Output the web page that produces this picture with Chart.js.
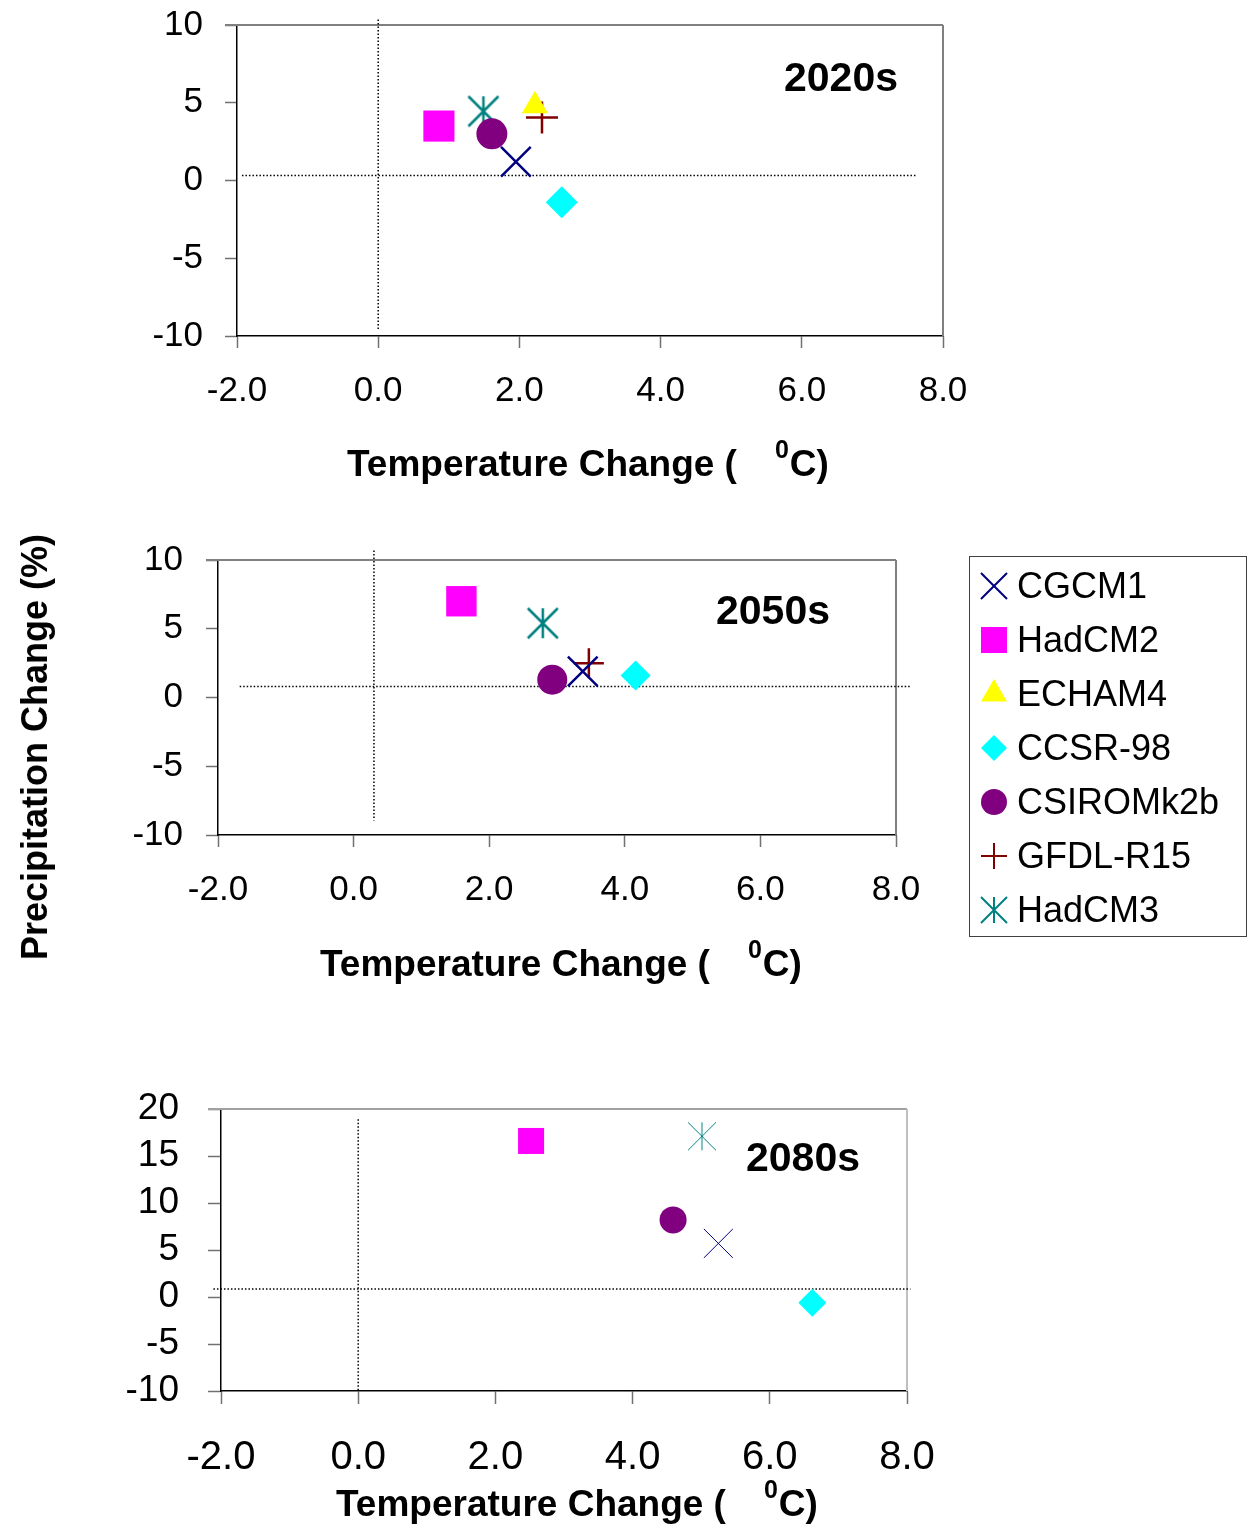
<!DOCTYPE html>
<html lang="en">
<head>
<meta charset="UTF-8">
<title>Temperature and precipitation change scenarios</title>
<script src="https://cdn.jsdelivr.net/npm/chart.js"></script>
<style>
  body { margin: 0; background: #fff; font-family: "Liberation Sans", Arial, sans-serif; }
  #page { position: relative; width: 1251px; height: 1526px; overflow: hidden; }
  .panel { position: absolute; left: 0; }
  #ytitle {
    position: absolute; left: 35px; top: 747px;
    transform: translate(-50%, -50%) rotate(-90deg);
    font-weight: bold; font-size: 36px; white-space: nowrap; color: #000;
  }
  #legend {
    position: absolute; left: 969px; top: 556px; width: 276px; height: 379px;
    border: 1px solid #404040; background: #fff;
  }
  .item { position: absolute; left: 0; height: 54px; display: flex; align-items: center; font-size: 36px; }
  .item canvas { margin-left: 9px; margin-right: 8px; }
</style>
</head>
<body>
<div id="page">
  <div class="panel" style="top:-35px"><canvas id="c2020" width="1000" height="535"></canvas></div>
  <div class="panel" style="top:500px"><canvas id="c2050" width="960" height="500"></canvas></div>
  <div class="panel" style="top:1050px"><canvas id="c2080" width="980" height="476"></canvas></div>
  <div id="ytitle">Precipitation Change (%)</div>
  <div id="legend"></div>
</div>

<script>
// models and marker colours
const models = ['CGCM1', 'HadCM2', 'ECHAM4', 'CCSR-98', 'CSIROMk2b', 'GFDL-R15', 'HadCM3'];
const colors = ['#000080', '#ff00ff', '#ffff00', '#00ffff', '#800080', '#800000', '#008080'];
const styles = ['crossRot', 'rect', 'triangle', 'rectRot', 'circle', 'cross', 'asterisk'];

// temperature change (C) and precipitation change (%) per model
const temp2020s   = [1.95, 0.86, 2.22, 2.60, 1.61, 2.32, 1.49];
const precip2020s = [1.2, 3.5, 4.8, -1.4, 3.0, 4.05, 4.45];
const temp2050s   = [3.38, 1.59, null, 4.16, 2.93, 3.47, 2.79];
const precip2050s = [1.9, 7.0, null, 1.6, 1.3, 2.5, 5.4];
const temp2080s   = [5.25, 2.52, null, 6.62, 4.59, null, 5.01];
const precip2080s = [5.7, 16.6, null, -0.6, 8.2, null, 17.1];

// axis ranges
const xRange = [-2, 8];
const yRange2020s = [-10, 10];
const yRange2050s = [-10, 10];
const yRange2080s = [-10, 20];

// dotted reference lines: horizontal [xFrom, xTo, y], vertical [x, yFrom, yTo]
const hRef2020s = [-1.93, 7.61, 0.32];
const vRef2020s = [0, 10.35, -9.6];
const hRef2050s = [-1.68, 8.23, 0.8];
const vRef2050s = [0.3, 10.7, -8.95];
const hRef2080s = [-2.11, 8.05, 0.86];
const vRef2080s = [0, 18.9, -10];

function makeAsterisk(size, lw, color) {
  const c = document.createElement('canvas');
  c.width = size + 4; c.height = size + 4;
  const g = c.getContext('2d');
  const m = c.width / 2, h = size / 2;
  g.strokeStyle = color; g.lineWidth = lw;
  g.beginPath();
  g.moveTo(m, m - h); g.lineTo(m, m + h);
  g.moveTo(m - h, m - h); g.lineTo(m + h, m + h);
  g.moveTo(m + h, m - h); g.lineTo(m - h, m + h);
  g.stroke();
  return c;
}

function markerSets(temps, precs, sz, lw) {
  return models.map((m, i) => {
    const st = styles[i];
    const lineStyle = (st === 'cross' || st === 'crossRot');
    return {
      label: m,
      data: temps[i] == null ? [] : [{ x: temps[i], y: precs[i] }],
      pointStyle: st === 'asterisk' ? makeAsterisk(sz.asterisk, lw, colors[i]) : st,
      pointRadius: sz[st],
      pointHoverRadius: sz[st],
      backgroundColor: colors[i],
      borderColor: colors[i],
      borderWidth: lineStyle ? lw : 0,
      order: 1
    };
  });
}

function refSets(h, v) {
  const common = {
    showLine: true, borderColor: '#000', borderWidth: 1.5, borderDash: [1.5, 2],
    pointRadius: 0, clip: false, order: 10
  };
  return [
    Object.assign({ data: [{ x: h[0], y: h[2] }, { x: h[1], y: h[2] }] }, common),
    Object.assign({ data: [{ x: v[0], y: v[1] }, { x: v[0], y: v[2] }] }, common)
  ];
}

const panelText = {
  id: 'panelText',
  beforeDatasetsDraw(chart, args, o) {
    const { ctx, chartArea: a } = chart;
    ctx.save();
    ctx.strokeStyle = o.topColor; ctx.lineWidth = 2;
    ctx.beginPath(); ctx.moveTo(a.left - o.tick, a.top); ctx.lineTo(a.right, a.top); ctx.stroke();
    ctx.strokeStyle = o.rightColor;
    ctx.beginPath(); ctx.moveTo(a.right, a.top); ctx.lineTo(a.right, a.bottom); ctx.stroke();
    ctx.restore();
  },
  afterDraw(chart, args, o) {
    const { ctx, chartArea: a } = chart;
    ctx.save();
    ctx.fillStyle = '#000';
    // period label
    ctx.font = 'bold 41px "Liberation Sans", Arial, sans-serif';
    ctx.textAlign = 'center'; ctx.textBaseline = 'middle';
    ctx.fillText(o.period, a.right - o.periodDx, a.top + o.periodDy);
    // x axis title with superscript zero
    ctx.textAlign = 'left'; ctx.textBaseline = 'alphabetic';
    let x = a.left + o.titleDx;
    const y = a.bottom + o.titleDy;
    ctx.font = 'bold 37px "Liberation Sans", Arial, sans-serif';
    const part1 = 'Temperature Change (';
    ctx.fillText(part1, x, y);
    x += ctx.measureText(part1).width + 38;
    ctx.font = 'bold 25px "Liberation Sans", Arial, sans-serif';
    ctx.fillText('0', x, y - 18);
    x += ctx.measureText('0').width + 1;
    ctx.font = 'bold 37px "Liberation Sans", Arial, sans-serif';
    ctx.fillText('C)', x, y);
    ctx.restore();
  }
};

function makeChart(id, temps, precs, yRange, hRef, vRef, p) {
  const font = (s) => ({ family: '"Liberation Sans", Arial, sans-serif', size: s });
  return new Chart(document.getElementById(id), {
    type: 'scatter',
    data: { datasets: refSets(hRef, vRef).concat(markerSets(temps, precs, p.sizes, p.lw)) },
    options: {
      responsive: false,
      animation: false,
      layout: { padding: { top: p.padTop, right: p.padRight, left: 0, bottom: 0 } },
      plugins: {
        legend: { display: false },
        tooltip: { enabled: false },
        panelText: {
          period: p.period, periodDx: p.periodDx, periodDy: p.periodDy,
          titleDx: p.titleDx, titleDy: p.titleDy, tick: p.tick,
          topColor: p.topColor, rightColor: p.rightColor
        }
      },
      scales: {
        x: {
          type: 'linear', min: xRange[0], max: xRange[1],
          afterFit: (s) => { s.height = p.xHeight; },
          ticks: {
            stepSize: 2, autoSkip: false, maxRotation: 0, color: '#000',
            font: font(p.xFont), padding: p.xPad,
            callback: (v) => v.toFixed(1)
          },
          grid: { drawOnChartArea: false, drawTicks: true, tickLength: p.tick, tickColor: '#707070', tickWidth: 1.5 },
          border: { display: true, color: '#000', width: 1.5 }
        },
        y: {
          type: 'linear', min: yRange[0], max: yRange[1],
          afterFit: (s) => { s.width = p.yWidth; },
          ticks: {
            stepSize: 5, autoSkip: false, color: '#000', font: font(p.yFont), padding: p.yPad,
            callback: (v) => String(v)
          },
          grid: { drawOnChartArea: false, drawTicks: true, tickLength: p.tick, tickColor: '#707070', tickWidth: 1.5 },
          border: { display: true, color: '#000', width: 1.5 }
        }
      }
    },
    plugins: [panelText]
  });
}

const bigMarks = { crossRot: 21, rect: 22, triangle: 15, rectRot: 16, circle: 15.5, cross: 16, asterisk: 30 };
const midMarks = { crossRot: 21, rect: 21.5, triangle: 15, rectRot: 15, circle: 15, cross: 15, asterisk: 30 };
const thinMarks = { crossRot: 20.5, rect: 18.4, triangle: 14, rectRot: 14, circle: 13.5, cross: 14, asterisk: 28 };

makeChart('c2020', temp2020s, precip2020s, yRange2020s, hRef2020s, vRef2020s, {
  sizes: bigMarks, lw: 2.5, padTop: 60, padRight: 57, xHeight: 164, yWidth: 237,
  xFont: 35, yFont: 35, xPad: 22, yPad: 22, tick: 12,
  period: '2020s', periodDx: 102, periodDy: 55, titleDx: 110, titleDy: 140,
  topColor: '#808080', rightColor: '#808080'
});
makeChart('c2050', temp2050s, precip2050s, yRange2050s, hRef2050s, vRef2050s, {
  sizes: midMarks, lw: 2.5, padTop: 60, padRight: 64, xHeight: 165, yWidth: 218,
  xFont: 35, yFont: 35, xPad: 22, yPad: 23, tick: 12,
  period: '2050s', periodDx: 123, periodDy: 53, titleDx: 102, titleDy: 141,
  topColor: '#808080', rightColor: '#808080'
});
makeChart('c2080', temp2080s, precip2080s, yRange2080s, hRef2080s, vRef2080s, {
  sizes: thinMarks, lw: 1, padTop: 59, padRight: 73, xHeight: 135, yWidth: 221,
  xFont: 40, yFont: 37, xPad: 30, yPad: 29, tick: 13,
  period: '2080s', periodDx: 104, periodDy: 51, titleDx: 115, titleDy: 125,
  topColor: '#a0a0a0', rightColor: '#c0c0c0'
});

// legend, symbols drawn with the Chart.js point helper
const legendMarks = { crossRot: 18.4, rect: 18.4, triangle: 15, rectRot: 13, circle: 13, cross: 13, asterisk: 26 };
const legend = document.getElementById('legend');
models.forEach((m, i) => {
  const row = document.createElement('div');
  row.className = 'item';
  row.style.top = (2 + i * 54) + 'px';
  const cv = document.createElement('canvas');
  cv.width = 30; cv.height = 30;
  const g = cv.getContext('2d');
  const st = styles[i];
  if (st === 'asterisk') {
    const img = makeAsterisk(legendMarks.asterisk, 2, colors[i]);
    g.drawImage(img, 15 - img.width / 2, 15 - img.height / 2);
  } else {
    g.fillStyle = colors[i]; g.strokeStyle = colors[i]; g.lineWidth = 2;
    Chart.helpers.drawPoint(g, { pointStyle: st, radius: legendMarks[st], rotation: 0,
      borderWidth: (st === 'cross' || st === 'crossRot') ? 2 : 0 }, 15, 15);
  }
  row.appendChild(cv);
  const t = document.createElement('span');
  t.textContent = m;
  row.appendChild(t);
  legend.appendChild(row);
});
</script>
</body>
</html>
